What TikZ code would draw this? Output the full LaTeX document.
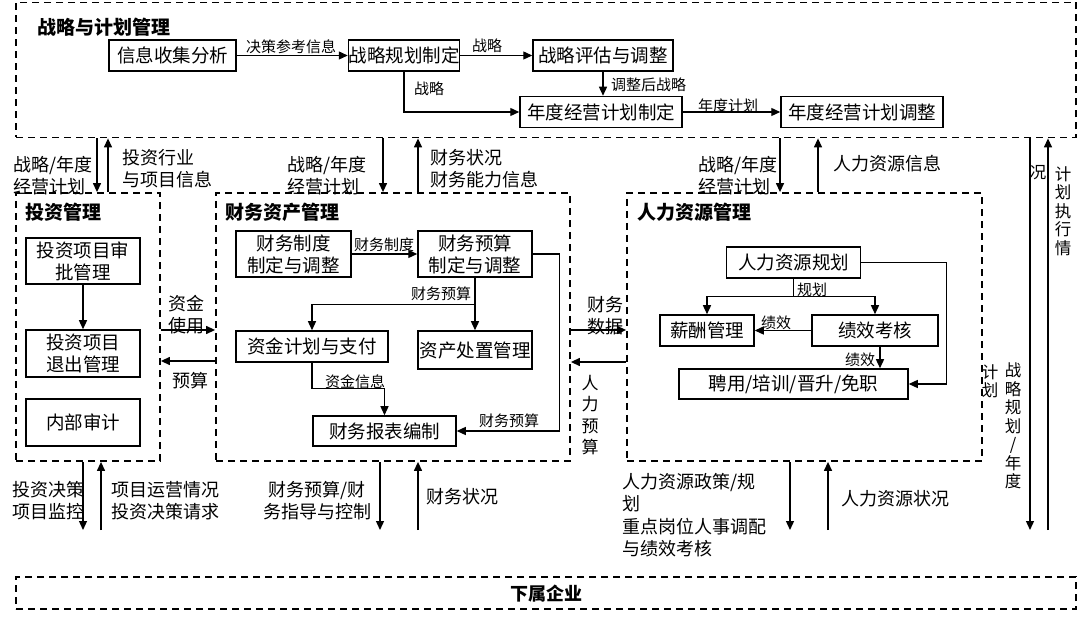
\documentclass[tikz,border=0pt]{standalone}
\usepackage{fontspec}
\setmainfont{Noto Sans CJK SC}
\usetikzlibrary{arrows.meta}
\tikzset{
 region/.style={draw, line width=1.8pt, dash pattern=on 7pt off 5pt, inner sep=0pt},
 bx/.style={draw, line width=1.5pt, inner sep=0pt, align=center, font=\fontsize{18.5}{22}\selectfont},
 arr/.style={line width=1.3pt, -{Triangle[length=9pt,width=8pt]}},
 plain/.style={line width=1.3pt},
 sl/.style={inner sep=0pt, font=\fontsize{15}{18}\selectfont},
 ol/.style={inner sep=0pt, align=left, font=\fontsize{18}{22}\selectfont},
 ttl/.style={inner sep=0pt, anchor=west, font=\bfseries\fontsize{19}{22}\selectfont},
 vt/.style={inner sep=0pt, align=center, font=\fontsize{16.5}{18.5}\selectfont},
}
\begin{document}
\begin{tikzpicture}[x=1pt,y=-1pt]
\useasboundingbox (0,0) rectangle (1080,620);
% regions
\node[region, minimum width=1060pt, minimum height=135pt] (top) at (546,70) {};
\node[region, minimum width=144pt, minimum height=268pt] (inv) at (88,327) {};
\node[region, minimum width=354pt, minimum height=268pt] (fin) at (393,327) {};
\node[region, minimum width=355pt, minimum height=268pt] (hr) at (804.5,327) {};
\node[region, minimum width=1060pt, minimum height=32pt] (sub) at (546,593) {};
% titles
\node[ttl] (ttop) at (37,27) {战略与计划管理};
\node[ttl] (tinv) at (25,212) {投资管理};
\node[ttl] (tfin) at (225,212) {财务资产管理};
\node[ttl] (thr) at (637,212) {人力资源管理};
\node[inner sep=0pt, font=\bfseries\fontsize{18}{22}\selectfont] (tsub) at (546,594) {下属企业};
% top boxes
\node[bx, minimum width=127pt, minimum height=31pt] (info) at (172.5,55.5) {信息收集分析};
\node[bx, minimum width=109pt, minimum height=31pt] (splan) at (404,55.5) {战略规划制定};
\node[bx, minimum width=140pt, minimum height=31pt] (seval) at (603,55.5) {战略评估与调整};
\node[bx, minimum width=162pt, minimum height=31pt] (aplan) at (601,112) {年度经营计划制定};
\node[bx, minimum width=162pt, minimum height=31pt] (aadj) at (862,112) {年度经营计划调整};
\draw[arr] (info) -- (splan);
\node[sl] (l1) at (291,47) {决策参考信息};
\draw[arr] (splan) -- (seval);
\node[sl] (l2) at (487,46) {战略};
\draw[arr] (splan.south) |- (aplan.west);
\node[sl] (l3) at (429,89) {战略};
\draw[arr] (seval.south) -- (seval.south |- aplan.north);
\node[sl, anchor=west] (l4) at (611,85) {调整后战略};
\draw[arr] (aplan) -- (aadj);
\node[sl] (l5) at (728,106) {年度计划};
% top <-> middle
\draw[arr] (top.south -| 97,0) -- (inv.north -| 97,0);
\draw[arr] (inv.north -| 108,0) -- (top.south -| 108,0);
\node[ol, anchor=west] (o1) at (13,176) {战略/年度\\经营计划};
\node[ol, anchor=west] (o2) at (122,169) {投资行业\\与项目信息};
\draw[arr] (top.south -| 383,0) -- (fin.north -| 383,0);
\draw[arr] (fin.north -| 418,0) -- (top.south -| 418,0);
\node[ol, anchor=west] (o3) at (287,176) {战略/年度\\经营计划};
\node[ol, anchor=west] (o4) at (430,169) {财务状况\\财务能力信息};
\draw[arr] (top.south -| 780,0) -- (hr.north -| 780,0);
\draw[arr] (hr.north -| 818,0) -- (top.south -| 818,0);
\node[ol, anchor=west] (o5) at (698,176) {战略/年度\\经营计划};
\node[ol, anchor=west] (o6) at (833,164) {人力资源信息};
% right long arrows
\coordinate (dR) at (1030,530);
\coordinate (uR) at (1048,530);
\draw[arr] (top.south -| dR) -- (dR);
\draw[arr] (uR) -- (top.south -| uR);
\node[vt] (v1) at (1038,173) {况};
\node[vt] (v2) at (1063,211) {计\\划\\执\\行\\情};
\node[vt] (v3) at (990,381) {计\\划};
\node[vt] (v4) at (1013,426) {战\\略\\规\\划\\/\\年\\度};
% investment
\node[bx, minimum width=114pt, minimum height=46pt] (iapp) at (83,261) {投资项目审\\批管理};
\node[bx, minimum width=114pt, minimum height=47pt] (iexit) at (83,353.5) {投资项目\\退出管理};
\node[bx, minimum width=114pt, minimum height=47pt] (iaud) at (83,422.5) {内部审计};
\draw[arr] (iapp) -- (iexit);
% inv <-> fin
\draw[arr] (inv.east |- 0,330) -- (fin.west |- 0,330);
\node[ol, align=center] (o7) at (186,315) {资金\\使用};
\draw[arr] (fin.west |- 0,361) -- (inv.east |- 0,361);
\node[ol] (o8) at (190,381) {预算};
% finance
\node[bx, minimum width=115pt, minimum height=46pt] (fsys) at (293.5,254) {财务制度\\制定与调整};
\node[bx, minimum width=114pt, minimum height=46pt] (fbud) at (475,254) {财务预算\\制定与调整};
\node[bx, minimum width=152pt, minimum height=31pt] (fund) at (312,346.5) {资金计划与支付};
\node[bx, minimum width=114pt, minimum height=38pt] (asset) at (475,350) {资产处置管理};
\node[bx, minimum width=143pt, minimum height=30pt] (rep) at (384.5,431) {财务报表编制};
\draw[arr] (fsys) -- (fbud);
\node[sl] (l6) at (384,245) {财务制度};
\draw[arr] (fbud) -- (asset);
\draw[arr] (fbud.south) -- ++(0,27) -| (fund.north);
\node[sl] (l7) at (441,294) {财务预算};
\draw[arr] (fund.south) -- ++(0,26) -| (rep.north);
\node[sl] (l8) at (355,382) {资金信息};
\draw[arr] (fbud.east) -- ++(27,0) |- (rep.east);
\node[sl] (l9) at (509,421) {财务预算};
% fin <-> hr
\draw[arr] (fin.east |- 0,330) -- (hr.west |- 0,330);
\node[ol, align=center] (o9) at (605,316) {财务\\数据};
\draw[arr] (hr.west |- 0,362) -- (fin.east |- 0,362);
\node[vt, font=\fontsize{17}{21.5}\selectfont] (v5) at (590,415) {人\\力\\预\\算};
% HR
\node[bx, minimum width=134pt, minimum height=31pt] (hplan) at (793.5,262.5) {人力资源规划};
\node[bx, minimum width=94pt, minimum height=31pt] (pay) at (707,330.5) {薪酬管理};
\node[bx, minimum width=126pt, minimum height=31pt] (perf) at (875,330.5) {绩效考核};
\node[bx, minimum width=229pt, minimum height=30pt] (hire) at (793.5,384) {聘用/培训/晋升/免职};
\draw[arr] (hplan.south) -- ++(0,17.5) -| (pay.north);
\draw[arr] (hplan.south) -- ++(0,17.5) -| (perf.north);
\node[sl] (l10) at (812,290) {规划};
\draw[arr] (perf) -- (pay);
\node[sl] (l11) at (776,323) {绩效};
\draw[arr] (perf.south -| 880,0) -- (hire.north -| 880,0);
\node[sl] (l12) at (860,360) {绩效};
\draw[arr] (hplan.east) -- ++(85,0) |- (hire.east);
% bottom arrows
\coordinate (b1) at (83,530);
\coordinate (b2) at (101,530);
\draw[arr] (inv.south -| b1) -- (b1);
\draw[arr] (b2) -- (inv.south -| b2);
\node[ol, anchor=west] (o10) at (12,501) {投资决策\\项目监控};
\node[ol, anchor=west] (o11) at (111,501) {项目运营情况\\投资决策请求};
\coordinate (b3) at (380,530);
\coordinate (b4) at (418,530);
\draw[arr] (fin.south -| b3) -- (b3);
\draw[arr] (b4) -- (fin.south -| b4);
\node[ol, align=center] (o12) at (317,501) {财务预算/财\\务指导与控制};
\node[ol, anchor=west] (o13) at (426,497) {财务状况};
\coordinate (b5) at (790,530);
\coordinate (b6) at (828,530);
\draw[arr] (hr.south -| b5) -- (b5);
\draw[arr] (b6) -- (hr.south -| b6);
\node[ol, anchor=west, font=\fontsize{18}{22.5}\selectfont] (o14) at (622,515) {人力资源政策/规\\划\\重点岗位人事调配\\与绩效考核};
\node[ol, anchor=west] (o15) at (841,499) {人力资源状况};
\end{tikzpicture}
\end{document}
